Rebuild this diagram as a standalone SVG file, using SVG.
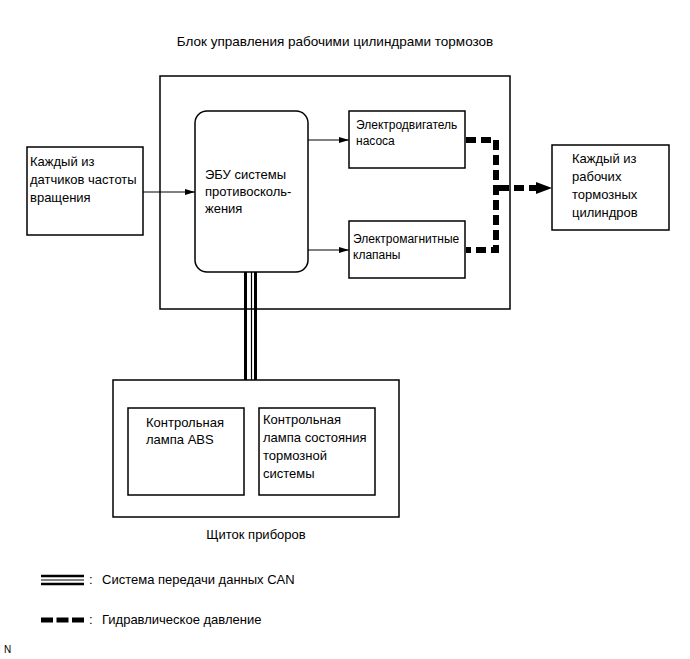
<svg xmlns="http://www.w3.org/2000/svg" width="690" height="659" viewBox="0 0 690 659">
<style>
text{font-family:"Liberation Sans",Arial,sans-serif;font-size:13px;fill:#000}
.s{font-size:12px}
.box{fill:#fff;stroke:#000;stroke-width:1.5}
.ln{stroke:#000;stroke-width:1;fill:none}
.hyd{stroke:#000;stroke-width:6;fill:none;stroke-dasharray:10,5}
</style>
<defs>
<marker id="ar" viewBox="0 0 10 6" refX="10" refY="3" markerWidth="10" markerHeight="6" markerUnits="userSpaceOnUse" orient="auto">
<path d="M0,0L10,3L0,6z" fill="#000"/>
</marker>
</defs>
<text x="335" y="46" text-anchor="middle" style="font-size:13.5px">Блок управления рабочими цилиндрами тормозов</text>
<g id="control-block"><rect class="box" x="160" y="76" width="350" height="233"/></g>
<g id="instrument-panel"><rect class="box" x="113" y="380" width="286" height="137"/>
<text x="256" y="539" text-anchor="middle">Щиток приборов</text></g>
<g id="connectors">
<line class="ln" x1="143" y1="192" x2="195" y2="192" marker-end="url(#ar)"/>
<line class="ln" x1="308" y1="140" x2="349" y2="140" marker-end="url(#ar)"/>
<line class="ln" x1="308" y1="250" x2="349" y2="250" marker-end="url(#ar)"/>
<path class="hyd" d="M466,140H496V250H466"/>
<path class="hyd" d="M499,188H536" stroke-dasharray="9,5"/>
<path d="M536,182L552,188L536,194z" fill="#000"/>
<line x1="245.5" y1="272" x2="245.5" y2="380" stroke="#000" stroke-width="3"/>
<line x1="251.5" y1="272" x2="251.5" y2="380" stroke="#000" stroke-width="1.2"/>
<line x1="255.5" y1="272" x2="255.5" y2="380" stroke="#000" stroke-width="3"/>
</g>
<g id="speed-sensors"><rect class="box" x="27" y="147" width="116" height="88"/>
<text x="30" y="166">Каждый из</text><text x="30" y="184">датчиков частоты</text><text x="30" y="202">вращения</text></g>
<g id="ecu"><rect class="box" x="195" y="111" width="113" height="161" rx="12" ry="12"/>
<text x="205" y="179">ЭБУ системы</text><text x="205" y="196">противосколь-</text><text x="205" y="213">жения</text></g>
<g id="pump-motor"><rect class="box" x="349" y="111" width="116" height="57"/>
<text class="s" x="356" y="129">Электродвигатель</text><text class="s" x="356" y="145">насоса</text></g>
<g id="solenoid-valves"><rect class="box" x="349" y="221" width="116" height="57"/>
<text class="s" x="353" y="243">Электромагнитные</text><text class="s" x="353" y="259">клапаны</text></g>
<g id="wheel-cylinders"><rect class="box" x="552" y="145" width="117" height="85"/>
<text x="572" y="163">Каждый из</text><text x="572" y="181">рабочих</text><text x="572" y="199">тормозных</text><text x="572" y="217">цилиндров</text></g>
<g id="abs-lamp"><rect class="box" x="128" y="408" width="116" height="87"/>
<text x="146" y="427">Контрольная</text><text x="146" y="444">лампа ABS</text></g>
<g id="brake-lamp"><rect class="box" x="259" y="408" width="116" height="87"/>
<text x="263" y="424">Контрольная</text><text x="263" y="442">лампа состояния</text><text x="263" y="460">тормозной</text><text x="263" y="478">системы</text></g>
<g id="legend">
<line x1="41" y1="576" x2="84" y2="576" stroke="#000" stroke-width="2.5"/>
<line x1="41" y1="580" x2="84" y2="580" stroke="#000" stroke-width="1"/>
<line x1="41" y1="584" x2="84" y2="584" stroke="#000" stroke-width="2.5"/>
<text x="89" y="584">:</text><text x="102" y="584">Система передачи данных CAN</text>
<line x1="41" y1="620" x2="84" y2="620" stroke="#000" stroke-width="5" stroke-dasharray="12,3.5"/>
<text x="89" y="624">:</text><text x="102" y="624">Гидравлическое давление</text>
</g>
<text x="4" y="653" style="font-size:10px">N</text>
</svg>
